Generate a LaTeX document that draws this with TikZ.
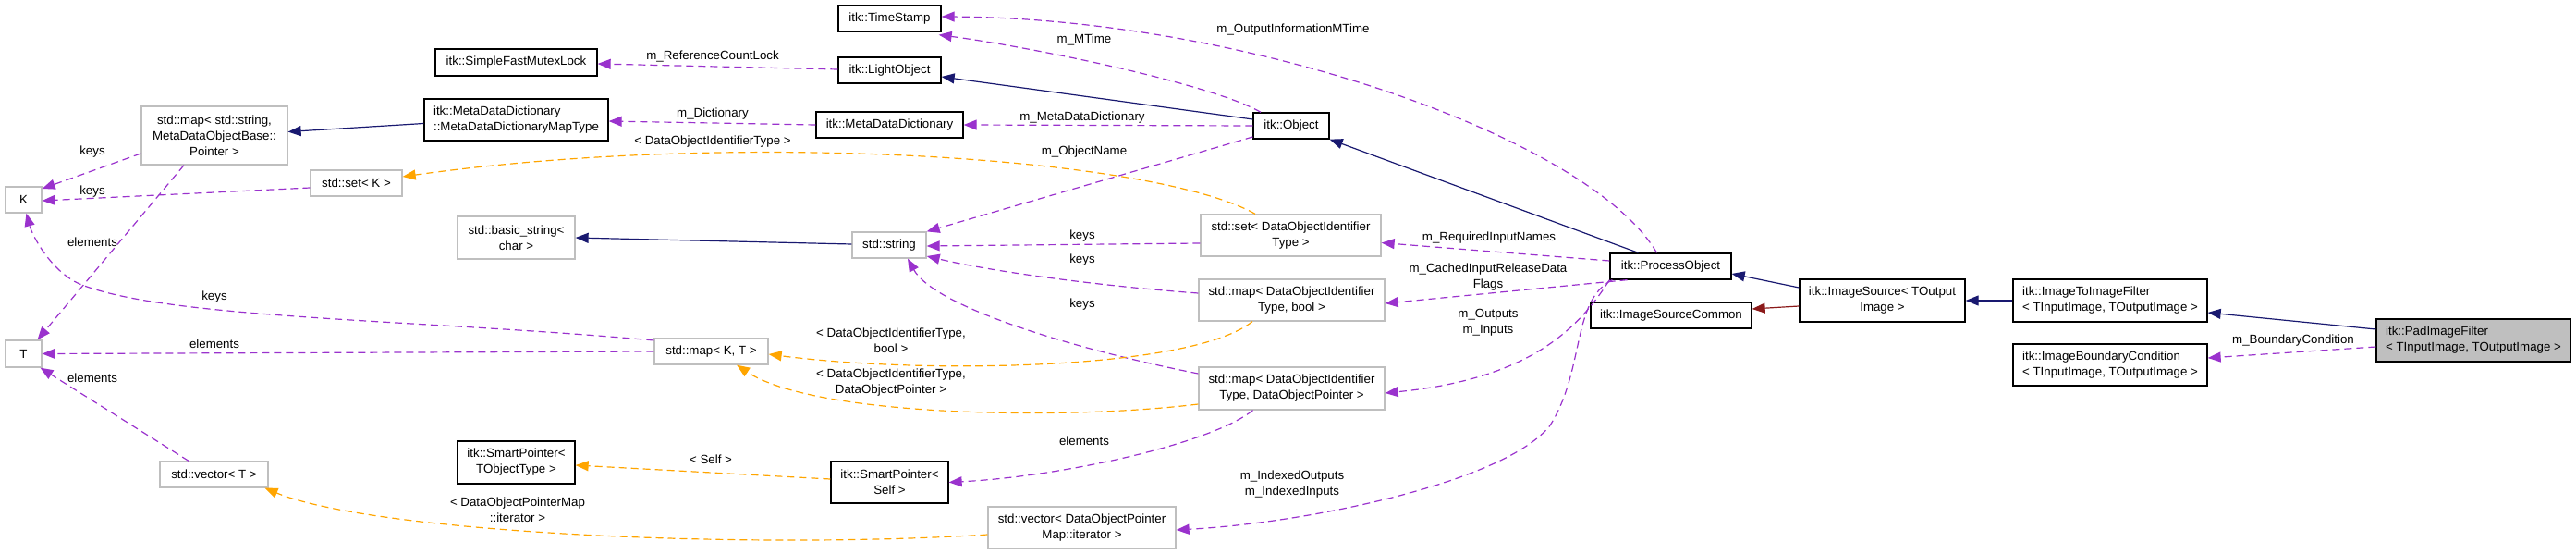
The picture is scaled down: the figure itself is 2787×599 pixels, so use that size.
\documentclass[tikz,border=0pt]{standalone}
\usepackage{fontspec}
\setmainfont{Liberation Sans}
\usetikzlibrary{arrows.meta}
\definecolor{usec}{HTML}{9A32CD}
\definecolor{tmplc}{HTML}{FFA500}
\definecolor{inhc}{HTML}{191970}
\definecolor{prvc}{HTML}{8B1A1A}
\definecolor{grayb}{HTML}{BFBFBF}
\newcommand\dgfont{\fontsize{13.3}{17}\selectfont}
\tikzset{
  cls/.style={draw=black, line width=1.3pt, fill=white, inner sep=0pt, font=\dgfont, align=center},
  ext/.style={draw=grayb, line width=1.3pt, fill=white, inner sep=0pt, font=\dgfont, align=center},
  lbl/.style={inner sep=0pt, font=\dgfont, align=center},
  tip/.style={-{Triangle[length=14pt,width=11pt]}},
  inh/.style={draw=inhc, line width=1.2pt, tip},
  prv/.style={draw=prvc, line width=1.2pt, tip},
  usage/.style={draw=usec, line width=1.2pt, dash pattern=on 8pt off 5pt, tip},
  tmpl/.style={draw=tmplc, line width=1.2pt, dash pattern=on 8pt off 5pt, tip},
}
\begin{document}
\begin{tikzpicture}[x=1pt,y=-1pt]
\useasboundingbox (0,0) rectangle (2787,599);
% ---- nodes
\node[cls, minimum width=175pt, minimum height=29pt] (sfml) at (558.5,67.5) {itk::SimpleFastMutexLock};
\node[cls, align=left, minimum width=199pt, minimum height=45pt] (mddmt) at (558.5,129.5) {itk::MetaDataDictionary\\::MetaDataDictionaryMapType};
\node[ext, minimum width=158pt, minimum height=63pt] (mapss) at (232,146.5) {std::map< std::string,\\MetaDataObjectBase::\\Pointer >};
\node[ext, minimum width=39pt, minimum height=28pt] (K) at (25.5,216) {K};
\node[ext, minimum width=99pt, minimum height=28pt] (setK) at (385.5,198) {std::set< K >};
\node[ext, minimum width=127pt, minimum height=46pt] (bstr) at (558.5,257) {std::basic\_string<\\char >};
\node[ext, minimum width=39pt, minimum height=29pt] (T) at (25.5,382.5) {T};
\node[ext, minimum width=123pt, minimum height=28pt] (mapKT) at (769.5,380) {std::map< K, T >};
\node[ext, minimum width=117pt, minimum height=28pt] (vecT) at (231.5,513) {std::vector< T >};
\node[cls, minimum width=127pt, minimum height=46pt] (spTO) at (558.5,500) {itk::SmartPointer<\\TObjectType >};
\node[cls, minimum width=111pt, minimum height=28pt] (ts) at (962.5,20) {itk::TimeStamp};
\node[cls, minimum width=111pt, minimum height=28pt] (lo) at (962.5,76) {itk::LightObject};
\node[cls, minimum width=159pt, minimum height=28pt] (mdd) at (962.5,135) {itk::MetaDataDictionary};
\node[cls, minimum width=82pt, minimum height=28pt] (obj) at (1397,136) {itk::Object};
\node[ext, minimum width=80pt, minimum height=28pt] (str) at (962,265) {std::string};
\node[ext, minimum width=195pt, minimum height=45pt] (setD) at (1396.5,254.5) {std::set< DataObjectIdentifier\\Type >};
\node[ext, minimum width=201pt, minimum height=45pt] (mapDB) at (1397.5,324.5) {std::map< DataObjectIdentifier\\Type, bool >};
\node[ext, minimum width=201pt, minimum height=46pt] (mapDP) at (1397.5,420) {std::map< DataObjectIdentifier\\Type, DataObjectPointer >};
\node[cls, minimum width=127pt, minimum height=45pt] (spS) at (962.5,521.5) {itk::SmartPointer<\\Self >};
\node[ext, minimum width=203pt, minimum height=45pt] (vecD) at (1170.5,570.5) {std::vector< DataObjectPointer\\Map::iterator >};
\node[cls, minimum width=131pt, minimum height=28pt] (po) at (1807.5,288) {itk::ProcessObject};
\node[cls, minimum width=174pt, minimum height=28pt] (isc) at (1808,341) {itk::ImageSourceCommon};
\node[cls, minimum width=179pt, minimum height=46pt] (is) at (2036.5,325) {itk::ImageSource< TOutput\\Image >};
\node[cls, align=left, minimum width=210pt, minimum height=46pt] (itif) at (2283,325) {itk::ImageToImageFilter\\< TInputImage, TOutputImage >};
\node[cls, align=left, minimum width=210pt, minimum height=45pt] (ibc) at (2283,394.5) {itk::ImageBoundaryCondition\\< TInputImage, TOutputImage >};
\node[cls, fill=grayb, align=left, minimum width=210pt, minimum height=46pt] (pad) at (2676,368) {itk::PadImageFilter\\< TInputImage, TOutputImage >};
% ---- inheritance
\draw[inh] ([shift={(0,4)}]mddmt.west) -- ([shift={(0,-4)}]mapss.east);
\draw[inh] ([shift={(0,-7)}]obj.west) -- ([shift={(0,7)}]lo.east);
\draw[inh] ([shift={(0,-1)}]str.west) -- (bstr.east);
\draw[inh] ([shift={(-35,0)}]po.north) -- (obj.south east);
\draw[inh] ([shift={(0,-14)}]is.west) -- ([shift={(0,8)}]po.east);
\draw[inh] (itif.west) -- (is.east);
\draw[inh] ([shift={(0,-12)}]pad.west) -- ([shift={(0,13)}]itif.east);
\draw[prv] ([shift={(0,6)}]is.west) -- ([shift={(0,-7)}]isc.east);
% ---- usage
\draw[usage] ([shift={(0,-1)}]lo.west) -- ([shift={(0,1.5)}]sfml.east);
\draw[usage] ([shift={(-33,0)}]obj.north) .. controls (1310,90) and (1110,50) .. ([shift={(-3,3)}]ts.south east);
\draw[usage] ([shift={(-15,0)}]po.north) .. controls (1720,150) and (1350,20) .. ([shift={(0,-2)}]ts.east);
\draw[usage] (obj.west) -- (mdd.east);
\draw[usage] (mdd.west) -- ([shift={(0,1.5)}]mddmt.east);
\draw[usage] ([shift={(0,12)}]obj.west) -- (str.north east);
\draw[usage] ([shift={(0,8.5)}]setD.west) -- ([shift={(0,1)}]str.east);
\draw[usage] ([shift={(0,-7.5)}]mapDB.west) .. controls (1200,310) and (1080,295) .. ([shift={(0,12)}]str.east);
\draw[usage] ([shift={(0,-16)}]mapDP.west) .. controls (1150,375) and (1010,330) .. ([shift={(20,0)}]str.south);
\draw[usage] ([shift={(0,-6)}]po.west) -- ([shift={(0,8)}]setD.east);
\draw[usage] ([shift={(-47,0)}]po.south) -- ([shift={(0,3.5)}]mapDB.east);
\draw[usage] (po.south west) .. controls (1705,360) and (1650,410) .. ([shift={(0,5)}]mapDP.east);
\draw[usage] ([shift={(3,0)}]po.south west) .. controls (1700,325) and (1715,400) .. (1677,460) .. controls (1630,520) and (1420,565) .. ([shift={(0,2.5)}]vecD.east);
\draw[usage] ([shift={(-42,0)}]mapDP.south) .. controls (1310,480) and (1150,515) .. (spS.east);
\draw[usage] ([shift={(0,19.5)}]mapss.west) -- ([shift={(0,-12)}]K.east);
\draw[usage] ([shift={(0,5)}]setK.west) -- ([shift={(0,1)}]K.east);
\draw[usage] ([shift={(-33,0)}]mapss.south) -- ([shift={(15,0)}]T.north);
\draw[usage] ([shift={(0,-12)}]mapKT.west) .. controls (450,345) and (180,345) .. (86,307) .. controls (55,293) and (35,255) .. ([shift={(3,0)}]K.south);
\draw[usage] (mapKT.west) -- (T.east);
\draw[usage] ([shift={(-27.5,0)}]vecT.north) -- ([shift={(18,0)}]T.south);
\draw[usage] ([shift={(0,7)}]pad.west) -- ([shift={(0,-7.5)}]ibc.east);
% ---- template instances
\draw[tmpl] ([shift={(-38.5,0)}]setD.north) .. controls (1250,170) and (800,140) .. ([shift={(0,-7)}]setK.east);
\draw[tmpl] ([shift={(-42.5,0)}]mapDB.south) .. controls (1290,400) and (1000,405) .. ([shift={(0,3)}]mapKT.east);
\draw[tmpl] ([shift={(0,17)}]mapDP.west) .. controls (1150,455) and (880,450) .. ([shift={(27.5,0)}]mapKT.south);
\draw[tmpl] ([shift={(0,-3.5)}]spS.west) -- ([shift={(0,3)}]spTO.east);
\draw[tmpl] ([shift={(0,7.5)}]vecD.west) .. controls (800,595) and (400,575) .. ([shift={(55,0)}]vecT.south);
% ---- labels
\node[lbl] (l1) at (771,61) {m\_ReferenceCountLock};
\node[lbl] (l2) at (1173,43) {m\_MTime};
\node[lbl] (l3) at (1399,32) {m\_OutputInformationMTime};
\node[lbl] (l4) at (1171,127) {m\_MetaDataDictionary};
\node[lbl] (l5) at (771,123) {m\_Dictionary};
\node[lbl] (l6) at (1173,164) {m\_ObjectName};
\node[lbl] (l7) at (1171,255) {keys};
\node[lbl] (l8) at (1171,281) {keys};
\node[lbl] (l9) at (1171,329) {keys};
\node[lbl] (l10) at (1611,257) {m\_RequiredInputNames};
\node[lbl] (l11) at (1610,300) {m\_CachedInputReleaseData\\Flags};
\node[lbl] (l12) at (1610,349) {m\_Outputs\\m\_Inputs};
\node[lbl] (l13) at (1398,524) {m\_IndexedOutputs\\m\_IndexedInputs};
\node[lbl] (l14) at (1173,477) {elements};
\node[lbl] (l15) at (100,164) {keys};
\node[lbl] (l16) at (100,207) {keys};
\node[lbl] (l17) at (100,262) {elements};
\node[lbl] (l18) at (232,321) {keys};
\node[lbl] (l19) at (232,372) {elements};
\node[lbl] (l20) at (100,409) {elements};
\node[lbl] (l21) at (2481,368) {m\_BoundaryCondition};
\node[lbl] (lo1) at (771,153) {< DataObjectIdentifierType >};
\node[lbl] (lo2) at (964,368) {< DataObjectIdentifierType,\\bool >};
\node[lbl] (lo3) at (964,414) {< DataObjectIdentifierType,\\DataObjectPointer >};
\node[lbl] (lo4) at (769,497) {< Self >};
\node[lbl] (lo5) at (560,551) {< DataObjectPointerMap\\::iterator >};
\end{tikzpicture}
\end{document}
